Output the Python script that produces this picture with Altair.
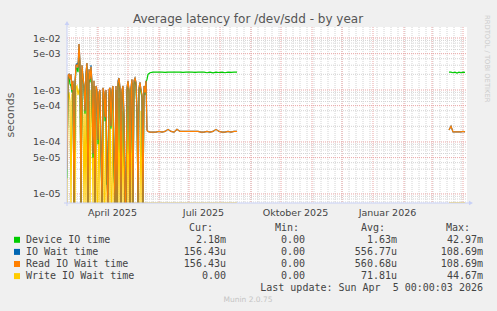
import altair as alt
import pandas as pd

# ---------------- data (seconds) ----------------
# segment 1a: daily, from 2025-03-01
vol_start = "2025-03-01"
device_vol = [2e-5, 1.7e-3, 1.8e-3, 1.3e-3, 1.2e-3, 9e-4, 1.3e-3, 0, 1.2e-3, 2.6e-3,
              2.6e-3, 2.2e-3, 5.5e-3, 2.4e-3, 0, 2.5e-3, 1.7e-3, 1.1e-3, 3.5e-4, 1.8e-3,
              2.8e-3, 0, 2.1e-3, 1.4e-3, 2.3e-3, 1.2e-3, 5e-5, 1.2e-3, 0, 1.0e-3,
              9e-4, 9e-5, 8e-4, 9e-4, 6e-5, 0, 9e-4, 8e-4, 2.5e-4, 9e-4,
              1.5e-5, 3.6e-5, 8e-4, 1.0e-3, 1.8e-4, 9e-4, 1.0e-3, 4e-5, 0, 1.0e-3,
              0, 1.2e-3, 1.5e-3, 9e-4, 0, 9e-4, 1.0e-3, 2.5e-4, 0, 0,
              9e-4, 1.3e-3, 9e-4, 0, 1.0e-3, 1.4e-3, 0, 1.3e-3, 1.5e-3, 1.2e-3,
              3.5e-4, 0, 1.0e-3, 1.2e-3, 9e-4, 7e-4, 0, 1.0e-3, 8e-4, 1.4e-3,
              1.6e-3, 2.0e-3]
iowait_vol = [3e-5, 1.9e-3, 2.0e-3, 1.6e-3, 2.0e-3, 1.0e-3, 1.5e-3, 0, 1.3e-3, 3.0e-3,
              3.2e-3, 2.7e-3, 7.7e-3, 3.5e-3, 0, 3.0e-3, 1.8e-3, 1.2e-3, 4e-4, 2.2e-3,
              3.3e-3, 0, 2.5e-3, 1.6e-3, 3.0e-3, 1.4e-3, 6e-5, 1.5e-3, 0, 1.2e-3,
              1.0e-3, 1.1e-4, 9e-4, 1.0e-3, 7e-5, 0, 1.1e-3, 9e-4, 3e-4, 1.0e-3,
              2e-5, 0, 1.0e-3, 1.1e-3, 2e-4, 1.0e-3, 1.2e-3, 5e-5, 0, 1.2e-3,
              0, 1.5e-3, 1.7e-3, 1.1e-3, 0, 1.0e-3, 1.2e-3, 3e-4, 0, 0,
              1.1e-3, 1.5e-3, 1.0e-3, 0, 1.1e-3, 1.6e-3, 0, 1.5e-3, 1.7e-3, 1.4e-3,
              4e-4, 0, 1.1e-3, 1.4e-3, 1.0e-3, 8e-4, 0, 1.2e-3, 9e-4, 1.5e-3,
              1.7e-4, 1.6e-4]
read_vol = [3e-5, 1.9e-3, 2.0e-3, 1.6e-3, 2.0e-3, 1.0e-3, 1.5e-3, 0, 1.3e-3, 3.0e-3,
            3.0e-3, 2.7e-3, 7.7e-3, 3.5e-3, 0, 3.0e-3, 1.8e-3, 1.2e-3, 4e-4, 2.2e-3,
            3.3e-3, 0, 2.5e-3, 1.6e-3, 2.8e-3, 1.4e-3, 6e-5, 1.5e-3, 0, 1.2e-3,
            1.0e-3, 1.1e-4, 9e-4, 1.0e-3, 7e-5, 0, 1.1e-3, 9e-4, 3e-4, 1.0e-3,
            2e-5, 0, 1.0e-3, 1.1e-3, 2e-4, 1.0e-3, 1.2e-3, 5e-5, 0, 1.2e-3,
            0, 1.4e-3, 1.7e-3, 1.1e-3, 0, 1.0e-3, 1.2e-3, 3e-4, 0, 0,
            1.1e-3, 1.5e-3, 1.0e-3, 0, 1.1e-3, 1.6e-3, 0, 1.5e-3, 1.7e-3, 1.4e-3,
            4e-4, 0, 1.1e-3, 1.4e-3, 1.0e-3, 8e-4, 0, 1.2e-3, 9e-4, 1.5e-3,
            1.7e-4, 1.6e-4]
write_vol = [0, 7e-4, 9e-4, 6e-4, 0, 8e-4, 1.0e-3, 0, 0, 1.1e-3,
             1.2e-3, 8e-4, 1.0e-3, 9e-4, 0, 7e-4, 3e-4, 0, 5e-4, 0,
             9e-4, 0, 6e-4, 0, 1.0e-3, 4e-4, 0, 8e-4, 0, 3e-4,
             0, 0, 6e-4, 0, 0, 0, 7e-4, 0, 0, 5e-4,
             0, 0, 0, 8e-4, 0, 0, 6e-4, 0, 0, 3e-5,
             0, 0, 7e-4, 0, 0, 0, 4e-4, 0, 0, 0,
             0, 5e-4, 0, 0, 0, 6e-4, 0, 0, 0, 0,
             0, 0, 0, 0, 4e-4, 0, 0, 0, 0, 0,
             0, 0]

# segment 1b: every 3 days, from 2025-05-23
flat_start = "2025-05-23"
device_flat = [2.15e-3, 2.2e-3, 2.2e-3, 2.22e-3, 2.2e-3, 2.18e-3, 2.2e-3, 2.2e-3, 2.21e-3, 2.2e-3,
               2.2e-3, 2.19e-3, 2.2e-3, 2.2e-3, 2.2e-3, 2.18e-3, 2.2e-3, 2.2e-3, 2.2e-3, 2.15e-3,
               2.2e-3, 2.14e-3, 2.2e-3, 2.17e-3, 2.2e-3, 2.15e-3, 2.2e-3, 2.18e-3, 2.2e-3, 2.2e-3]
iowait_flat = [1.55e-4, 1.55e-4, 1.55e-4, 1.6e-4, 1.55e-4, 1.6e-4, 1.75e-4, 1.6e-4, 1.55e-4, 1.75e-4,
               1.6e-4, 1.6e-4, 1.6e-4, 1.6e-4, 1.6e-4, 1.6e-4, 1.6e-4, 1.55e-4, 1.55e-4, 1.6e-4,
               1.55e-4, 1.6e-4, 1.75e-4, 1.6e-4, 1.55e-4, 1.55e-4, 1.6e-4, 1.55e-4, 1.6e-4, 1.6e-4]
read_flat = [1.55e-4, 1.55e-4, 1.55e-4, 1.6e-4, 1.55e-4, 1.6e-4, 1.75e-4, 1.6e-4, 1.55e-4, 1.75e-4,
             1.6e-4, 1.6e-4, 1.6e-4, 1.6e-4, 1.6e-4, 1.6e-4, 1.6e-4, 1.55e-4, 1.55e-4, 1.6e-4,
             1.55e-4, 1.6e-4, 1.75e-4, 1.6e-4, 1.55e-4, 1.55e-4, 1.6e-4, 1.55e-4, 1.6e-4, 1.6e-4]
write_flat = [0] * 30

# segment 2: every 2 days, from 2026-03-18
last_start = "2026-03-18"
device_last = [2.2e-3, 2.2e-3, 2.15e-3, 2.2e-3, 2.12e-3, 2.2e-3, 2.15e-3, 2.2e-3, 2.18e-3]
iowait_last = [1.7e-4, 2.0e-4, 1.56e-4, 1.56e-4, 1.56e-4, 1.56e-4, 1.56e-4, 1.6e-4, 1.56e-4]
read_last = [1.7e-4, 2.0e-4, 1.56e-4, 1.56e-4, 1.56e-4, 1.56e-4, 1.56e-4, 1.6e-4, 1.56e-4]
write_last = [0] * 9

# legend
names = ["Device IO time", "IO Wait time", "Read IO Wait time", "Write IO Wait time"]
colors = ["#00CC00", "#0066B3", "#FF8000", "#FFCC00"]
cur_vals = ["2.18m", "156.43u", "156.43u", "0.00"]
min_vals = ["0.00", "0.00", "0.00", "0.00"]
avg_vals = ["1.63m", "556.77u", "560.68u", "71.81u"]
max_vals = ["42.97m", "108.69m", "108.69m", "44.67m"]
headers = ["Cur:", "Min:", "Avg:", "Max:"]
last_update = "Last update: Sun Apr \u00a05 00:00:03 2026"
title_text = "Average latency for /dev/sdd - by year"

y_major = [1e-5, 5e-5, 1e-4, 5e-4, 1e-3, 5e-3, 1e-2]
y_minor = [7e-6, 8e-6, 9e-6,
           2e-5, 3e-5, 4e-5, 6e-5, 7e-5, 8e-5, 9e-5,
           2e-4, 3e-4, 4e-4, 6e-4, 7e-4, 8e-4, 9e-4,
           2e-3, 3e-3, 4e-3, 6e-3, 7e-3, 8e-3, 9e-3]

# ---------------- build tables ----------------
d_vol = pd.date_range(vol_start, periods=len(read_vol), freq="D").strftime("%Y-%m-%d")
d_flat = pd.date_range(flat_start, periods=len(read_flat), freq="3D").strftime("%Y-%m-%d")
d_last = pd.date_range(last_start, periods=len(read_last), freq="2D").strftime("%Y-%m-%d")

series = {
    "Device IO time": (device_vol, device_flat, device_last),
    "IO Wait time": (iowait_vol, iowait_flat, iowait_last),
    "Read IO Wait time": (read_vol, read_flat, read_last),
    "Write IO Wait time": (write_vol, write_flat, write_last),
}
rows = []
for name, (a, b, c) in series.items():
    for d, v in zip(d_vol, a):
        rows.append({"series": name, "date": d, "value": v, "seg": 1})
    for d, v in zip(d_flat, b):
        rows.append({"series": name, "date": d, "value": v, "seg": 1})
    for d, v in zip(d_last, c):
        rows.append({"series": name, "date": d, "value": v, "seg": 2})
df = pd.DataFrame(rows)

W, H = 400, 176
xscale = alt.Scale(type="utc",
                   domain=[alt.DateTime(year=2025, month=3, date=1, utc=True),
                           alt.DateTime(year=2026, month=4, date=5, utc=True)])
yscale = alt.Scale(type="log", domain=[6.7e-6, 0.0163], clamp=True, nice=False)

weeks = pd.DataFrame({"d": pd.date_range("2025-03-03", "2026-04-04", freq="7D").strftime("%Y-%m-%d")})
months = pd.DataFrame({"d": pd.date_range("2025-04-01", "2026-04-01", freq="MS").strftime("%Y-%m-%d")})

MINOR = "#d4d4d4"
MAJOR = "#eaa4a4"
TXT = "#444444"
AXC = "#c8d0f6"

month_names = "['Januar','Februar','März','April','Mai','Juni','Juli','August','September','Oktober','November','Dezember']"
x_axis = alt.Axis(
    values=[alt.DateTime(year=2025, month=4, date=15, utc=True),
            alt.DateTime(year=2025, month=7, date=15, utc=True),
            alt.DateTime(year=2025, month=10, date=15, utc=True),
            alt.DateTime(year=2026, month=1, date=15, utc=True)],
    labelExpr=month_names + "[utcmonth(datum.value)] + ' ' + utcyear(datum.value)",
    grid=False, ticks=False, domain=False, title=None,
    labelFont="DejaVu Sans", labelFontSize=9.5, labelColor=TXT, labelPadding=4)
y_axis = alt.Axis(
    values=y_major,
    labelExpr="replace(format(datum.value, '.0e'), 'e-', 'e-0')",
    grid=False, ticks=False, domain=False, title=None,
    labelFont="DejaVu Sans", labelFontSize=9.5, labelColor=TXT, labelPadding=7)

vminor = alt.Chart(weeks).mark_rule(color=MINOR, strokeDash=[1, 1], strokeWidth=1).encode(
    x=alt.X("d:T", scale=xscale, axis=x_axis), y=alt.value(0), y2=alt.value(H))
vmajor = alt.Chart(months).mark_rule(color=MAJOR, strokeDash=[1, 1], strokeWidth=1).encode(
    x=alt.X("d:T", scale=xscale, axis=x_axis), y=alt.value(0), y2=alt.value(H))
hminor = alt.Chart(pd.DataFrame({"v": y_minor})).mark_rule(color=MINOR, strokeDash=[1, 1], strokeWidth=1).encode(
    y=alt.Y("v:Q", scale=yscale, axis=y_axis), x=alt.value(0), x2=alt.value(W))
hmajor = alt.Chart(pd.DataFrame({"v": y_major})).mark_rule(color=MAJOR, strokeDash=[1, 1], strokeWidth=1).encode(
    y=alt.Y("v:Q", scale=yscale, axis=y_axis), x=alt.value(0), x2=alt.value(W))

# draw order: write (beneath), device, io wait, read (on top)
draw_order = [3, 0, 1, 2]
lines = []
for i in draw_order:
    name, col = names[i], colors[i]
    lines.append(
        alt.Chart(df).transform_filter(alt.datum.series == name)
        .transform_calculate(v2="max(datum.value, 1e-9)")
        .mark_line(color=col, strokeWidth=1.2, clip=True)
        .encode(x=alt.X("date:T", scale=xscale, axis=x_axis),
                y=alt.Y("v2:Q", scale=yscale, axis=y_axis),
                detail="seg:N")
    )

# axis lines with arrows
one = pd.DataFrame({"a": [0]})
yline = alt.Chart(one).mark_rule(color=AXC, strokeWidth=1).encode(
    x=alt.value(0), y=alt.value(-3), y2=alt.value(H + 3))
xline = alt.Chart(one).mark_rule(color=AXC, strokeWidth=1).encode(
    x=alt.value(-3), x2=alt.value(W + 3), y=alt.value(H))
uparrow = alt.Chart(one).mark_point(shape="triangle-up", filled=True, size=22, color=AXC, opacity=1).encode(
    x=alt.value(0), y=alt.value(-4))
rarrow = alt.Chart(one).mark_point(shape="triangle-right", filled=True, size=22, color=AXC, opacity=1).encode(
    x=alt.value(W + 4), y=alt.value(H))


def one_text(t, x, y, **kw):
    return alt.Chart(pd.DataFrame({"t": [t]})).mark_text(**kw).encode(
        text="t:N", x=alt.value(x), y=alt.value(y))


texts = [
    one_text(title_text, 181, -8, align="center", baseline="middle",
             font="DejaVu Sans", fontSize=12, color="#555555"),
    one_text("seconds", -56, 88, align="center", baseline="middle", angle=270,
             font="DejaVu Sans", fontSize=11, color="#555555"),
    one_text("RRDTOOL / TOBI OETIKER", 420, -12, align="left", baseline="middle", angle=90,
             font="DejaVu Sans", fontSize=6.8, color="#cccccc"),
    one_text("Munin 2.0.75", 181, 273, align="center", baseline="middle",
             font="DejaVu Sans", fontSize=7.5, color="#c4c4c4"),
]

ROW0 = 200.7
STEP = 12.1
mono = dict(baseline="middle", font="DejaVu Sans Mono", fontSize=10, color=TXT)
for h, px in zip(headers, [146, 232, 318, 403]):
    texts.append(one_text(h, px, ROW0, align="right", **mono))
for k in range(4):
    py = ROW0 + STEP * (k + 1)
    texts.append(one_text(names[k], -41, py, align="left", **mono))
    for vals, px in zip([cur_vals, min_vals, avg_vals, max_vals], [159, 238, 330, 416]):
        texts.append(one_text(vals[k], px, py, align="right", **mono))
    texts.append(alt.Chart(one).mark_square(size=36, filled=True, opacity=1, color=colors[k]).encode(
        x=alt.value(-50), y=alt.value(py)))
texts.append(one_text(last_update, 416, ROW0 + STEP * 5, align="right", **mono))

chart = alt.layer(
    vminor, vmajor, hminor, hmajor, *lines, yline, xline, uparrow, rarrow, *texts
).properties(
    width=W, height=H,
    autosize=alt.AutoSizeParams(type="none"),
    padding={"left": 67, "top": 27, "right": 30, "bottom": 108},
).configure(background="#F0F0F0").configure_view(fill="white", strokeWidth=0)

chart.save("out.html", embed_options={"renderer": "svg", "actions": False})
